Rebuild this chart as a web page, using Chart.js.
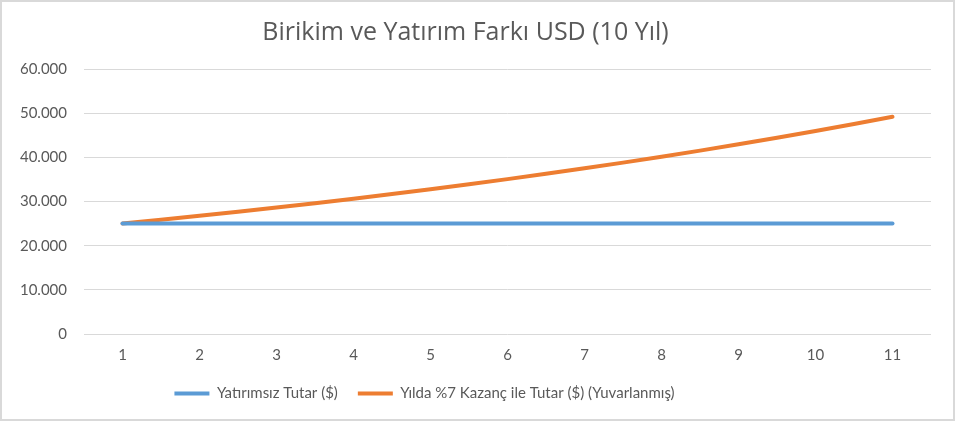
<!DOCTYPE html>
<html>
<head>
<meta charset="utf-8">
<script src="https://cdn.jsdelivr.net/npm/chart.js@4/dist/chart.umd.min.js"></script>
<style>
  html, body { margin: 0; padding: 0; background: #fff; }
  #wrap { width: 955px; height: 421px; position: relative; }
</style>
</head>
<body>
<div id="wrap"><canvas id="chart"></canvas></div>
<script>
// years on the x axis
var years = ['1', '2', '3', '4', '5', '6', '7', '8', '9', '10', '11'];
// amounts in USD
var noInvest = [25000, 25000, 25000, 25000, 25000, 25000, 25000, 25000, 25000, 25000, 25000];
var withGain = [25000, 26750, 28623, 30626, 32770, 35064, 37518, 40145, 42955, 45961, 49179];

var seriesNames = ['Yatırımsız Tutar ($)', 'Yılda %7 Kazanç ile Tutar ($) (Yuvarlanmış)'];

var fontName = 'Lato';
var grey = '#595959';

// light grey frame round the whole picture
var framePlugin = {
  id: 'frame',
  beforeDraw: function(chart) {
    var c = chart.ctx;
    c.save();
    c.fillStyle = '#fff';
    c.fillRect(0, 0, chart.width, chart.height);
    c.strokeStyle = '#d9d9d9';
    c.lineWidth = 2;
    c.strokeRect(1, 1, chart.width - 2, chart.height - 2);
    c.restore();
  },
  // legend sits a bit left of centre in the original
  afterLayout: function(chart) {
    if (chart.legend) {
      chart.legend.left -= 82;
    }
  }
};

window.onload = function() {
  var ctx = document.getElementById('chart');
  var myChart = new Chart(ctx, {
    type: 'line',
    data: {
      labels: years,
      datasets: [
        {
          label: seriesNames[0],
          data: noInvest,
          borderColor: '#5B9BD5',
          backgroundColor: '#5B9BD5',
          borderWidth: 4,
          pointRadius: 0,
          borderCapStyle: 'round'
        },
        {
          label: seriesNames[1],
          data: withGain,
          borderColor: '#ED7D31',
          backgroundColor: '#ED7D31',
          borderWidth: 4,
          pointRadius: 0,
          tension: 0.4,
          borderCapStyle: 'round'
        }
      ]
    },
    options: {
      responsive: true,
      maintainAspectRatio: false,
      animation: false,
      layout: { padding: { left: 0, right: 24, top: 0, bottom: 10 } },
      plugins: {
        title: {
          display: true,
          text: 'Birikim ve Yatırım Farkı USD (10 Yıl)',
          color: grey,
          font: { family: 'Open Sans', size: 25, weight: 'normal' },
          padding: { top: 18, bottom: 21 }
        },
        legend: {
          position: 'bottom',
          labels: {
            color: grey,
            font: { family: fontName, size: 15 },
            boxWidth: 35,
            boxHeight: 4,
            padding: 20,
            generateLabels: function(chart) {
              var items = Chart.defaults.plugins.legend.labels.generateLabels(chart);
              items.forEach(function(it) { it.lineWidth = 0; });
              return items;
            }
          }
        },
        tooltip: { enabled: false }
      },
      scales: {
        x: {
          offset: true,
          afterFit: function(scale) { scale.height -= 10; },
          grid: { display: false, drawTicks: false },
          border: { display: false },
          ticks: { color: grey, font: { family: fontName, size: 15 }, padding: 12 }
        },
        y: {
          min: 0,
          max: 60000,
          afterFit: function(scale) { scale.width = 84; },
          grid: { color: '#d9d9d9', lineWidth: 1, drawTicks: false },
          border: { display: false },
          ticks: {
            stepSize: 10000,
            color: grey,
            font: { family: fontName, size: 15 },
            padding: 17,
            callback: function(v) {
              return String(v).replace(/\B(?=(\d{3})+(?!\d))/g, '.');
            }
          }
        }
      }
    },
    plugins: [framePlugin]
  });
};
</script>
</body>
</html>
